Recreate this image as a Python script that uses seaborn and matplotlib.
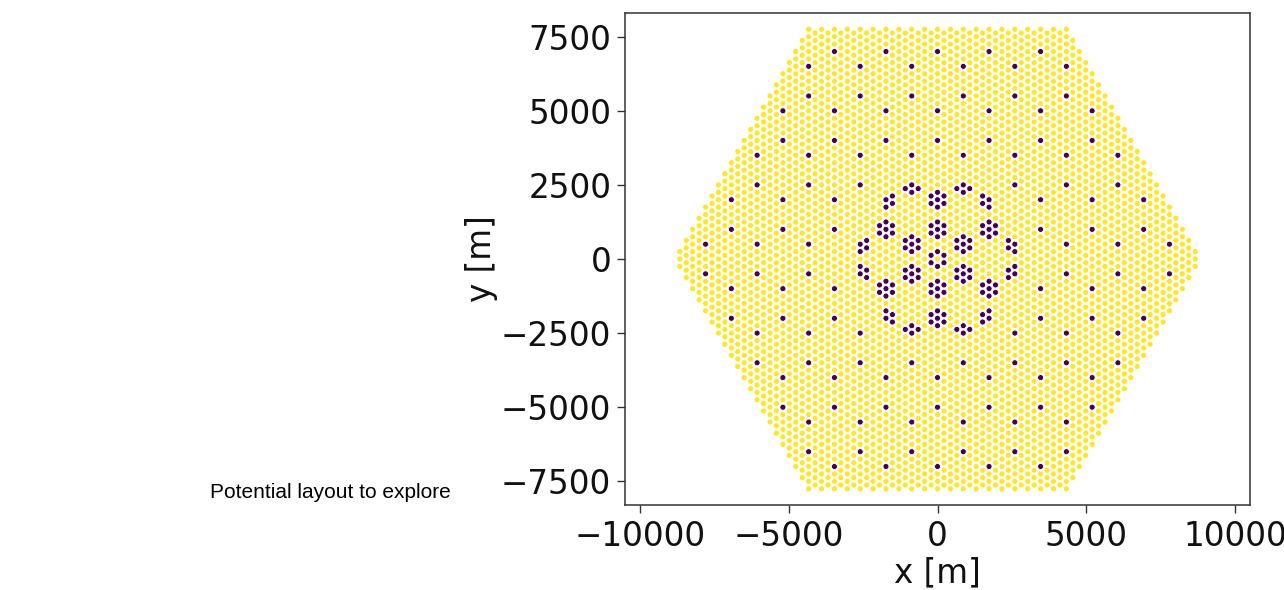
import numpy as np
import pandas as pd
import matplotlib
matplotlib.use("Agg")
import matplotlib.pyplot as plt
import seaborn as sns

# fine triangular grid (m)
grid_step = 250
hex_radius = 8900
hex_half_height = 7800

# sparse stations, rows with y>=0 (mirrored below)
sparse_rows_y = [7000, 6500, 5500, 5000, 4000, 3500, 2500, 2000, 1000, 500]
sparse_rows_x = [
    [-3464, -1732, 0, 1732, 3464],
    [-4330, -2598, -866, 866, 2598, 4330],
    [-4330, -2598, -866, 866, 2598, 4330],
    [-5196, -3464, -1732, 0, 1732, 3464, 5196],
    [-5196, -3464, -1732, 0, 1732, 3464, 5196],
    [-6062, -4330, -2598, -866, 866, 2598, 4330, 6062],
    [-6062, -4330, -2598, 2598, 4330, 6062],
    [-6928, -5196, -3464, 3464, 5196, 6928],
    [-6928, -5196, -3464, 3464, 5196, 6928],
    [-7794, -6062, -4330, 4330, 6062, 7794],
]

# infill clusters (centre + 6 neighbours)
cluster_x = [0, 0, 866, -866, 866, -866, 0, 0, 1732, -1732, 1732, -1732]
cluster_y = [1000, -1000, 500, 500, -500, -500, 2000, -2000, 1000, 1000, -1000, -1000]
# clusters on the rim of the infill, cut at infill radius
rim_x = [866, -866, 866, -866, 1732, -1732, 1732, -1732, 2598, -2598, 2598, -2598]
rim_y = [2500, 2500, -2500, -2500, 2000, 2000, -2000, -2000, 500, 500, -500, -500]
infill_radius = 2650
# ring (no centre station) in the middle
ring_x = [0]
ring_y = [0]

dx = grid_step * np.sqrt(3) / 2


def key(x, y):
    return (int(round(x / dx)), int(round(2 * y / grid_step)))


def neighbours(k):
    i, j = k
    return [(i, j + 2), (i, j - 2), (i + 1, j + 1), (i + 1, j - 1), (i - 1, j + 1), (i - 1, j - 1)]


def pos(k):
    return k[0] * dx, k[1] * grid_step / 2


purple = set()
for y, xs in zip(sparse_rows_y, sparse_rows_x):
    for x in xs:
        purple.add(key(x, y))
        purple.add(key(x, -y))
for x, y in zip(cluster_x, cluster_y):
    c = key(x, y)
    purple.add(c)
    purple.update(neighbours(c))
for x, y in zip(rim_x, rim_y):
    c = key(x, y)
    for k in [c] + neighbours(c):
        if np.hypot(*pos(k)) <= infill_radius:
            purple.add(k)
for x, y in zip(ring_x, ring_y):
    purple.update(neighbours(key(x, y)))

# fine grid inside the hexagon
rows = []
ncol = int(hex_radius / dx) + 1
for i in range(-ncol, ncol + 1):
    for j in range(-80, 81):
        if (i + j) % 2:
            continue
        x, y = pos((i, j))
        if abs(y) <= hex_half_height and abs(y) <= np.sqrt(3) * (hex_radius - abs(x)):
            rows.append((x, y, 1 if (i, j) in purple else 0))

df = pd.DataFrame(rows, columns=["x", "y", "kind"]).sort_values("kind")

fig = plt.figure(figsize=(12.84, 5.90), dpi=100)
ax = fig.add_axes([0.4868, 0.144, 0.4867, 0.834])
sns.scatterplot(data=df, x="x", y="y", hue="kind",
                palette={0: "#fde725", 1: "#440154"},
                s=19, edgecolor="white", linewidth=0.6, legend=False, ax=ax)

ax.set_xlim(-10500, 10500)
ax.set_ylim(-8300, 8300)
ax.set_xticks([-10000, -5000, 0, 5000, 10000])
ax.set_yticks([-7500, -5000, -2500, 0, 2500, 5000, 7500])
ax.tick_params(labelsize=23.5, length=6, width=1, pad=4,
               colors="#333333", labelcolor="#111111")
ax.tick_params(axis="x", pad=5)
for sp in ax.spines.values():
    sp.set_color("#333333")
    sp.set_linewidth(1.1)
ax.set_xlabel("x [m]", fontsize=23.5, labelpad=2, color="#111111")
ax.set_ylabel("y [m]", fontsize=23.5, labelpad=2, color="#111111")

fig.text(0.1636, 0.166, "Potential layout to explore", fontsize=15,
         family=["Liberation Sans", "DejaVu Sans"], va="center", ha="left")

fig.savefig("out.png", dpi=100)
